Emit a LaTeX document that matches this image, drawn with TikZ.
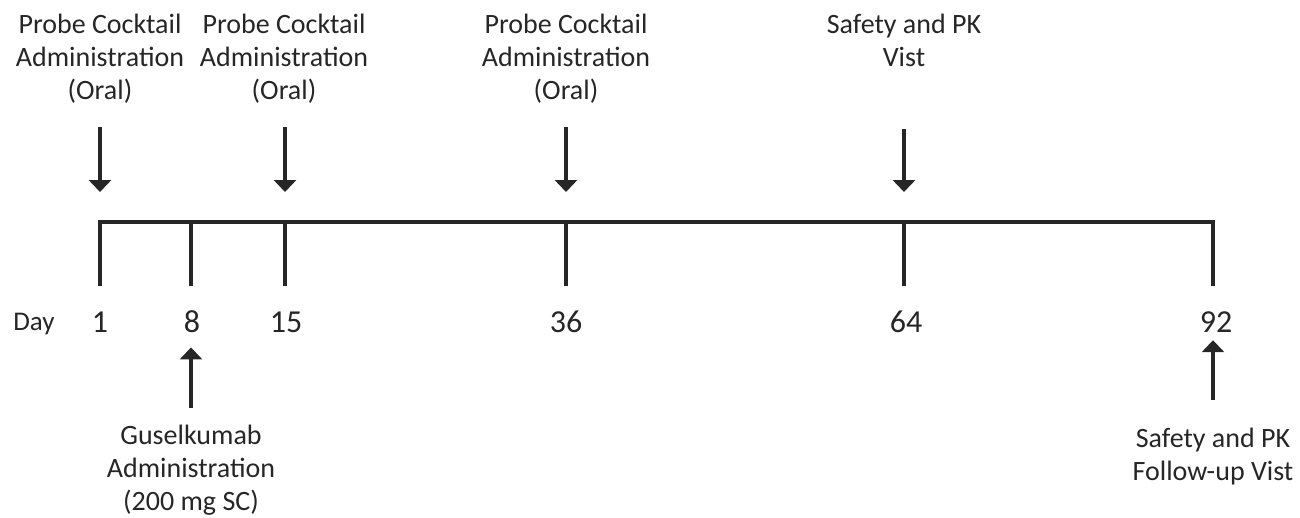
\documentclass[tikz,border=0pt]{standalone}
\usepackage{fontspec}
\setmainfont{Carlito}
\usetikzlibrary{arrows.meta, positioning}
\definecolor{ink}{HTML}{262626}
\tikzstyle{caption} = [align = center, inner sep = 0pt, text = ink,
font = \fontsize{28}{33}\selectfont]
\tikzstyle{daynum} = [anchor = base, inner sep = 0pt, text = ink,
font = \fontsize{32}{38}\selectfont]
\tikzstyle{axis} = [line width = 4.5pt, draw = ink]
\tikzstyle{arrow} = [line width = 3.5pt, draw = ink, -{Triangle[width = 22pt, length = 12pt]}]

\begin{document}
\begin{tikzpicture}[x = 1pt, y = -1pt]

    \useasboundingbox (0,0) rectangle (1300,517);

    % timeline
    \coordinate (t1) at (100,222);
    \coordinate (t8) at (191,222);
    \coordinate (t15) at (285,222);
    \coordinate (t36) at (566,222);
    \coordinate (t64) at (904,222);
    \coordinate (t92) at (1213,222);

    \draw[axis] ([yshift = -64pt]t1) -- (t1) -- (t92) -- ([yshift = -64pt]t92);
    \foreach \t in {t8, t15, t36, t64}
        \draw[axis] (\t) -- ([yshift = -64pt]\t);

    % day numbers
    \node (day) [daynum, font = \fontsize{27}{32}\selectfont] at (34,330) {Day};
    \node (d1) [daynum] at (100,332) {1};
    \node (d8) [daynum] at (192,332) {8};
    \node (d15) [daynum] at (286,332) {15};
    \node (d36) [daynum] at (566,332) {36};
    \node (d64) [daynum] at (906,332) {64};
    \node (d92) [daynum] at (1216,332) {92};

    % events above
    \node (pc1) [caption, anchor = north] at (100,14) {Probe Cocktail\\Administration\\(Oral)};
    \node (pc15) [caption, anchor = north] at (284,14) {Probe Cocktail\\Administration\\(Oral)};
    \node (pc36) [caption, anchor = north] at (566,14) {Probe Cocktail\\Administration\\(Oral)};
    \node (spk64) [caption, anchor = north] at (904,14) {Safety and PK\\Vist};

    % events below
    \node (gus) [caption, anchor = north] at (191,425) {Guselkumab\\Administration\\(200 mg SC)};
    \node (spk92) [caption, anchor = north] at (1213,428) {Safety and PK\\Follow-up Vist};

    \draw[arrow, shorten <= 23pt, shorten >= 30pt] (pc1) -- (t1);
    \draw[arrow, shorten <= 23pt, shorten >= 30pt] (pc15.south -| t15) -- (t15);
    \draw[arrow, shorten <= 23pt, shorten >= 30pt] (pc36) -- (t36);
    \draw[arrow, shorten <= 62pt, shorten >= 30pt] (spk64) -- (t64);
    \draw[arrow, shorten <= 17pt, shorten >= 15pt] (gus.north -| t8) -- (d8.south -| t8);
    \draw[arrow, shorten <= 28pt, shorten >= 8pt] (spk92) -- (d92.south -| t92);

\end{tikzpicture}
\end{document}
